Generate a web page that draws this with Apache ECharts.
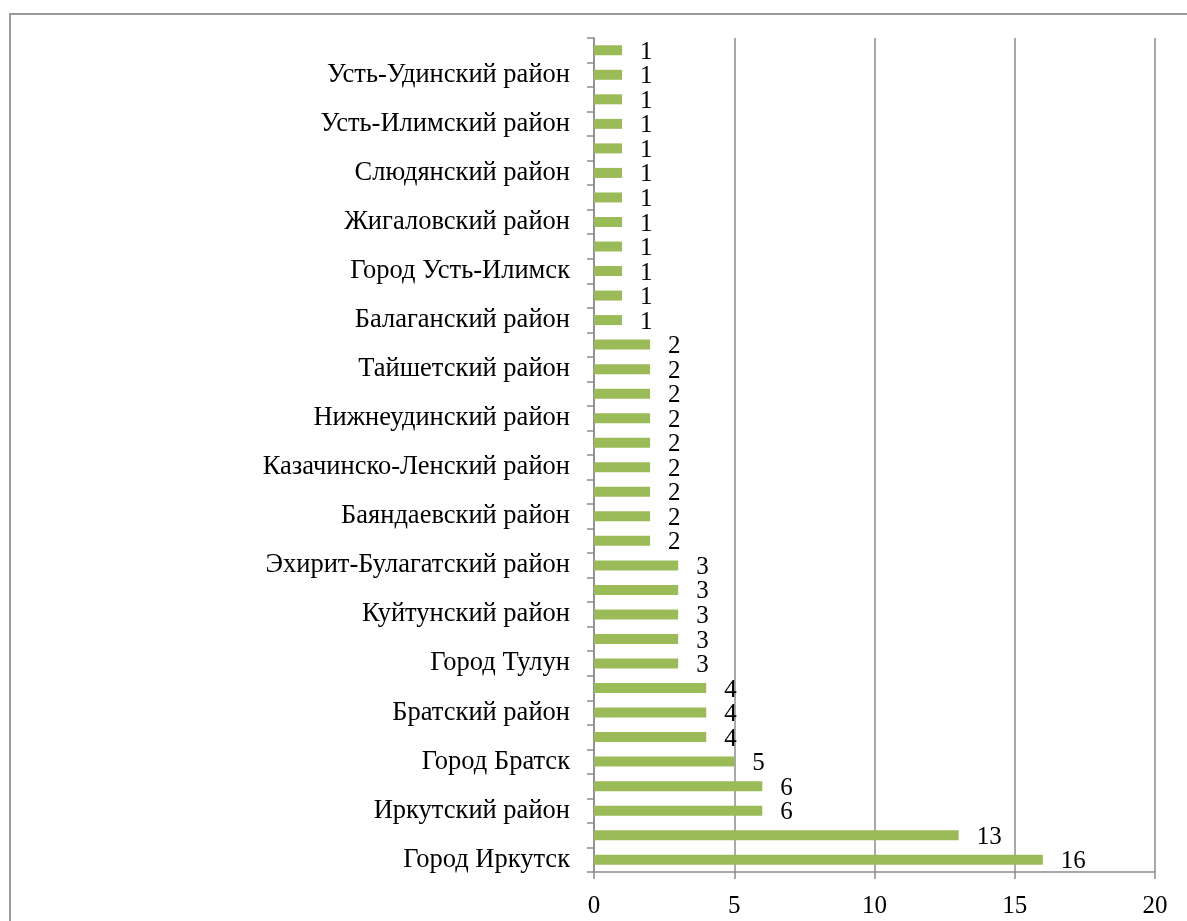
<!DOCTYPE html>
<html><head><meta charset="utf-8">
<script src="https://cdn.jsdelivr.net/npm/echarts@6/dist/echarts.min.js"></script>
<style>html,body{margin:0;padding:0;background:#fff}#c{width:1187px;height:921px}</style>
</head><body><div id="c"></div>
<script>
// categories from bottom to top; unlabeled rows have empty names
const categories = [
  'Город Иркутск', '',
  'Иркутский район', '',
  'Город Братск', '',
  'Братский район', '',
  'Город Тулун', '',
  'Куйтунский район', '',
  'Эхирит-Булагатский район', '',
  'Баяндаевский район', '',
  'Казачинско-Ленский район', '',
  'Нижнеудинский район', '',
  'Тайшетский район', '',
  'Балаганский район', '',
  'Город Усть-Илимск', '',
  'Жигаловский район', '',
  'Слюдянский район', '',
  'Усть-Илимский район', '',
  'Усть-Удинский район', ''
];
const values = [16, 13, 6, 6, 5, 4, 4, 4, 3, 3, 3, 3, 3, 2, 2, 2, 2, 2, 2, 2, 2, 2, 1, 1, 1, 1, 1, 1, 1, 1, 1, 1, 1, 1];
const xTicks = [0, 5, 10, 15, 20];

const font = '"Liberation Serif", "Times New Roman", serif';
const axisColor = '#8c8c8c';
const chart = echarts.init(document.getElementById('c'));
chart.setOption({
  animation: false,
  backgroundColor: '#fff',
  graphic: [{
    type: 'rect', shape: {x: 10, y: 14, width: 1200, height: 960},
    style: {fill: 'none', stroke: '#999', lineWidth: 2}, silent: true, z: -1
  }],
  grid: {left: 594, right: 32, top: 38, bottom: 49, containLabel: false},
  xAxis: {
    type: 'value', min: xTicks[0], max: xTicks[xTicks.length - 1], interval: 5,
    axisLine: {show: true, lineStyle: {color: axisColor, width: 1.5}},
    axisTick: {show: true, length: 7, lineStyle: {color: axisColor, width: 1.5}},
    axisLabel: {fontFamily: font, fontSize: 25, color: '#000', margin: 22},
    splitLine: {show: true, lineStyle: {color: axisColor, width: 1.5}}
  },
  yAxis: {
    type: 'category', data: categories,
    axisLine: {show: true, lineStyle: {color: axisColor, width: 1.5}},
    axisTick: {show: true, interval: 0, length: 7, lineStyle: {color: axisColor, width: 1.5}},
    axisLabel: {interval: 1, fontFamily: font, fontSize: 26.5, color: '#000', margin: 24, padding: [12, 0, 0, 0]},
    splitLine: {show: false}
  },
  series: [{
    type: 'bar', data: values, barWidth: 10,
    itemStyle: {color: '#9bbb59'},
    label: {show: true, position: 'right', distance: 18, offset: [0, 2], fontFamily: font, fontSize: 25, color: '#000'}
  }]
});
</script></body></html>
